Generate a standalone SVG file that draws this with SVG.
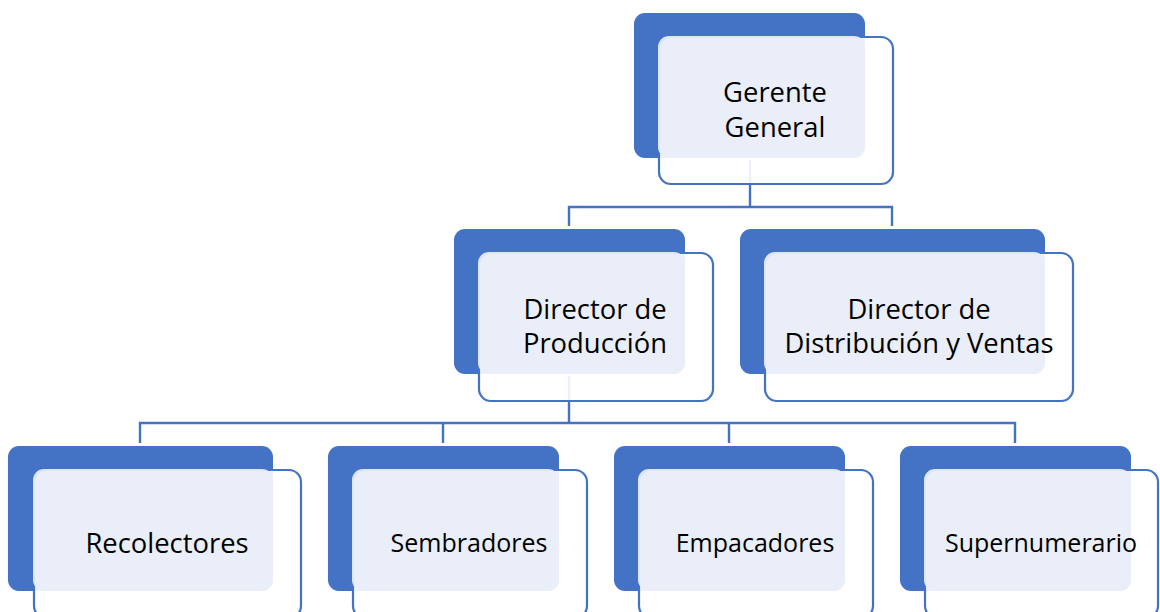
<svg xmlns="http://www.w3.org/2000/svg" width="1160" height="612" viewBox="0 0 1160 612">
<style>
.back{fill:#4472C4}
.front{fill:#ffffff;fill-opacity:0.9;stroke:#4472C4;stroke-width:2.2}
.tb{fill:#E9EEF7;fill-opacity:0.93}
.conn{fill:none;stroke:#4472C4;stroke-width:2.4}
text{font-family:"Open Sans","Noto Sans","Liberation Sans",sans-serif;fill:#000;text-anchor:middle}
.big{font-size:27.4px}
.sm{font-size:25px}
</style>
<rect width="1160" height="612" fill="#ffffff"/>
<g id="connectors">
<path class="conn" d="M750 160V207M569 226V207H892V226"/>
<path class="conn" d="M569 376V423M140 443V423H1015V443M443 423V443M729 423V443"/>
</g>
<g id="n-gerente">
<rect class="back" x="634" y="13" width="231" height="145" rx="11"/>
<rect class="front" x="659" y="37" width="234" height="147" rx="12"/>
<rect class="tb" x="658" y="36" width="207" height="122" rx="11"/>
<text class="big" x="775" y="102">Gerente</text>
<text class="big" x="775" y="137">General</text>
</g>
<g id="n-produccion">
<rect class="back" x="454" y="229" width="231" height="145" rx="11"/>
<rect class="front" x="479" y="253" width="234" height="148" rx="12"/>
<rect class="tb" x="478" y="252" width="207" height="122" rx="11"/>
<text class="big" x="595" y="319">Director de</text>
<text class="big" x="595" y="353">Producción</text>
</g>
<g id="n-distribucion">
<rect class="back" x="740" y="229" width="305" height="145" rx="11"/>
<rect class="front" x="765" y="253" width="308" height="148" rx="12"/>
<rect class="tb" x="764" y="252" width="281" height="122" rx="11"/>
<text class="big" x="919" y="319">Director de</text>
<text class="big" x="919" y="353">Distribución y Ventas</text>
</g>
<g id="n-recolectores">
<rect class="back" x="8" y="446" width="265" height="145" rx="11"/>
<rect class="front" x="34" y="470" width="267" height="148" rx="12"/>
<rect class="tb" x="33" y="469" width="240" height="122" rx="11"/>
<text class="big" x="167" y="553">Recolectores</text>
</g>
<g id="n-sembradores">
<rect class="back" x="328" y="446" width="231" height="145" rx="11"/>
<rect class="front" x="353" y="470" width="234" height="148" rx="12"/>
<rect class="tb" x="352" y="469" width="207" height="122" rx="11"/>
<text class="sm" x="469" y="552">Sembradores</text>
</g>
<g id="n-empacadores">
<rect class="back" x="614" y="446" width="231" height="145" rx="11"/>
<rect class="front" x="639" y="470" width="234" height="148" rx="12"/>
<rect class="tb" x="638" y="469" width="207" height="122" rx="11"/>
<text class="sm" x="755" y="552">Empacadores</text>
</g>
<g id="n-supernumerario">
<rect class="back" x="900" y="446" width="231" height="145" rx="11"/>
<rect class="front" x="925" y="470" width="233" height="148" rx="12"/>
<rect class="tb" x="924" y="469" width="207" height="122" rx="11"/>
<text class="sm" x="1041" y="552">Supernumerario</text>
</g>
</svg>
